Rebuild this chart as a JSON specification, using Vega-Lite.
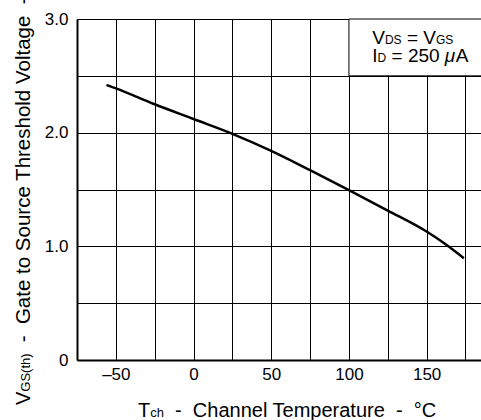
{
  "$schema": "https://vega.github.io/schema/vega-lite/v6.json",
  "width": 404,
  "height": 341,
  "autosize": {"type": "none"},
  "padding": {"left": 77, "top": 19, "right": 0, "bottom": 60},
  "background": "white",
  "config": {
    "view": {"stroke": null},
    "font": "Liberation Sans",
    "axis": {
      "grid": true,
      "gridColor": "#000000",
      "gridOpacity": 1,
      "gridWidth": 1,
      "domainColor": "#000000",
      "domainWidth": 2,
      "ticks": false,
      "labelColor": "#000000",
      "labelFont": "Liberation Sans",
      "labelFontSize": 17,
      "labelOverlap": false,
      "labelFlush": false
    },
    "text": {"font": "Liberation Sans", "color": "#000000", "align": "left", "baseline": "alphabetic", "fontWeight": "normal"}
  },
  "layer": [
    {
      "data": {
        "values": [
          {"tch": -56, "vgs": 2.42},
          {"tch": -50, "vgs": 2.39},
          {"tch": -25, "vgs": 2.25},
          {"tch": 0, "vgs": 2.12},
          {"tch": 25, "vgs": 1.99},
          {"tch": 50, "vgs": 1.84},
          {"tch": 75, "vgs": 1.67},
          {"tch": 100, "vgs": 1.495},
          {"tch": 125, "vgs": 1.315},
          {"tch": 150, "vgs": 1.13},
          {"tch": 162, "vgs": 1.02},
          {"tch": 174, "vgs": 0.895}
        ]
      },
      "mark": {"type": "line", "color": "#000000", "strokeWidth": 2.5, "interpolate": "monotone"},
      "encoding": {
        "x": {
          "field": "tch",
          "type": "quantitative",
          "scale": {"domain": [-75, 185], "nice": false, "zero": false},
          "axis": {
            "title": null,
            "values": [-75, -50, -25, 0, 25, 50, 75, 100, 125, 150, 175],
            "labelExpr": "(datum.value % 50 === 0 && datum.value >= -50 && datum.value <= 150) ? (datum.value < 0 ? '\u2013' + abs(datum.value) : '' + datum.value) : ''",
            "labelPadding": 6
          }
        },
        "y": {
          "field": "vgs",
          "type": "quantitative",
          "scale": {"domain": [0, 3], "nice": false, "zero": false},
          "axis": {
            "title": null,
            "values": [0, 0.5, 1, 1.5, 2, 2.5, 3],
            "labelExpr": "datum.value % 1 === 0 ? (datum.value === 0 ? '0' : format(datum.value, '.1f')) : ''",
            "labelPadding": 9
          }
        }
      }
    },
    {
      "data": {"values": [{}]},
      "mark": {"type": "rect", "fill": "#ffffff", "stroke": null},
      "encoding": {
        "x": {"datum": 100, "type": "quantitative"},
        "x2": {"datum": 185},
        "y": {"datum": 3, "type": "quantitative"},
        "y2": {"datum": 2.5}
      }
    },
    {
      "data": {"values": [{}]},
      "mark": {"type": "rule", "color": "#000000", "strokeWidth": 1},
      "encoding": {
        "x": {"datum": 100, "type": "quantitative"},
        "y": {"datum": 2.5, "type": "quantitative"},
        "y2": {"datum": 3}
      }
    },
    {
      "data": {"values": [{}]},
      "mark": {"type": "rule", "color": "#000000", "strokeWidth": 1},
      "encoding": {
        "x": {"datum": 100, "type": "quantitative"},
        "x2": {"datum": 185},
        "y": {"datum": 2.5, "type": "quantitative"}
      }
    },
    {
      "data": {"values": [{}]},
      "mark": {"type": "rule", "color": "#000000", "strokeWidth": 1},
      "encoding": {
        "x": {"datum": 100, "type": "quantitative"},
        "x2": {"datum": 185},
        "y": {"datum": 3, "type": "quantitative"}
      }
    },
    {
      "data": {"values": [{}]},
      "encoding": {"x": {"datum": 115, "type": "quantitative"}, "y": {"datum": 2.78, "type": "quantitative"}},
      "layer": [
        {"mark": {"type": "text", "text": "V", "fontSize": 19, "dx": 0}},
        {"mark": {"type": "text", "text": "DS", "fontSize": 12, "dx": 12.7}},
        {"mark": {"type": "text", "text": "=\u00a0V", "fontSize": 19, "dx": 34.7}},
        {"mark": {"type": "text", "text": "GS", "fontSize": 12, "dx": 63.7}}
      ]
    },
    {
      "data": {"values": [{}]},
      "encoding": {"x": {"datum": 115, "type": "quantitative"}, "y": {"datum": 2.62, "type": "quantitative"}},
      "layer": [
        {"mark": {"type": "text", "text": "I", "fontSize": 19, "dx": 0}},
        {"mark": {"type": "text", "text": "D", "fontSize": 12, "dx": 5.3}},
        {"mark": {"type": "text", "text": "=\u00a0250", "fontSize": 19, "dx": 19.3}},
        {"mark": {"type": "text", "text": "\u03bc", "fontSize": 19, "fontStyle": "italic", "dx": 72.6}},
        {"mark": {"type": "text", "text": "A", "fontSize": 19, "dx": 83.5}}
      ]
    },
    {
      "data": {"values": [{}]},
      "encoding": {"x": {"datum": -35.7, "type": "quantitative"}, "y": {"datum": -0.5, "type": "quantitative"}},
      "layer": [
        {"mark": {"type": "text", "text": "T", "fontSize": 20, "dx": 0}},
        {"mark": {"type": "text", "text": "ch", "fontSize": 13, "dx": 12.2}},
        {"mark": {"type": "text", "text": "-\u00a0\u00a0Channel Temperature\u00a0\u00a0-\u00a0\u00a0\u00b0C", "fontSize": 20, "dx": 37.0}}
      ]
    },
    {
      "data": {"values": [{}]},
      "encoding": {"x": {"datum": -105.25, "type": "quantitative"}, "y": {"datum": -0.396, "type": "quantitative"}},
      "layer": [
        {"mark": {"type": "text", "text": "V", "fontSize": 20, "angle": 270, "dx": 0}},
        {"mark": {"type": "text", "text": "GS(th)", "fontSize": 13, "angle": 270, "dx": 13.3}},
        {"mark": {"type": "text", "text": "-\u00a0\u00a0Gate to Source Threshold Voltage\u00a0\u00a0-", "fontSize": 20.5, "angle": 270, "dx": 62.7}}
      ]
    }
  ]
}
